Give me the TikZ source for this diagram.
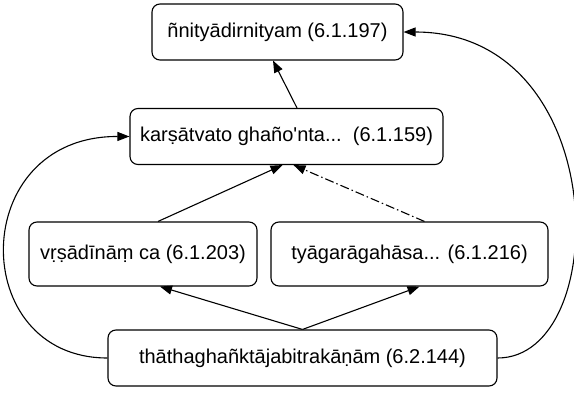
\documentclass[tikz,border=0pt]{standalone}
\usepackage{fontspec}
\newfontfamily\graphfont{Liberation Sans}
\usetikzlibrary{arrows.meta}
\begin{document}
\begin{tikzpicture}[x=1pt,y=-1pt,
rule/.style={draw, line width=1.1pt, rounded corners=8pt, inner sep=0pt,
  font=\graphfont\fontsize{20}{24}\selectfont},
dep/.style={line width=1.1pt, -{Triangle[length=12pt,width=9pt]}}]
\useasboundingbox[fill=white] (0,0) rectangle (574,394);
\node[rule, minimum width=251, minimum height=56] (top) at (277.5,32) {ñnityādirnityam (6.1.197)};
\node[rule, minimum width=313, minimum height=56] (mid) at (286.5,136.5) {karṣātvato ghaño'nta...\ \ (6.1.159)};
\node[rule, minimum width=228, minimum height=64] (left) at (143,254) {vṛṣādīnāṃ ca (6.1.203)};
\node[rule, minimum width=277, minimum height=64] (right) at (409.5,254) {tyāgarāgahāsa... (6.1.216)};
\node[rule, minimum width=389, minimum height=56] (bot) at (302.5,358) {thāthaghañktājabitrakāṇām (6.2.144)};
\draw[dep] ([xshift=10.5]mid.north) -- ([xshift=-4.5]top.south);
\draw[dep] ([xshift=15]left.north) -- ([xshift=-4]mid.south);
\draw[dep, dash pattern=on 9pt off 3pt on 1.5pt off 3pt] ([xshift=15]right.north) -- ([xshift=7]mid.south);
\draw[dep] (bot.north) -- ([xshift=17]left.south);
\draw[dep] (bot.north) -- ([xshift=10]right.south);
\draw[dep] (bot.west) .. controls (-33,358) and (-33,136) .. (mid.west);
\draw[dep] (bot.east) .. controls (613,358) and (613,32) .. (top.east);
\end{tikzpicture}
\end{document}
